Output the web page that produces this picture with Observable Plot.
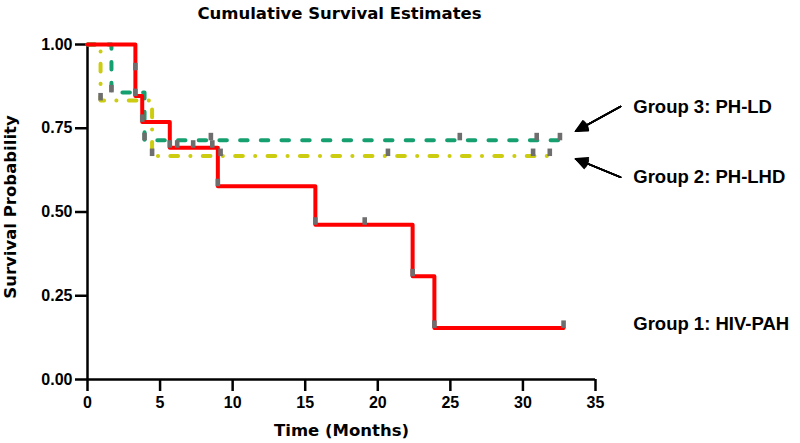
<!DOCTYPE html>
<html>
<head>
<meta charset="utf-8">
<script src="https://cdn.jsdelivr.net/npm/d3@7"></script>
<script src="https://cdn.jsdelivr.net/npm/@observablehq/plot@0.6"></script>
<style>
  html, body { margin: 0; padding: 0; background: #fff; }
  #chart svg { display: block; }
</style>
</head>
<body>
<div id="chart"></div>
<script>
// Group 1: HIV-PAH (red, solid)
const g1Time = [0, 3.3, 3.3, 3.77, 5.67, 6.18, 7.28, 8.6, 8.98, 15.7, 19.1, 22.4, 23.9, 32.8];
const g1Surv = [1, 0.923, 0.846, 0.769, 0.692, 0.692, 0.692, 0.692, 0.577, 0.462, 0.462, 0.308, 0.154, 0.154];
// Group 2: PH-LHD (yellow, dash-dot)
const g2Time = [0, 0.9, 4.45, 9.17, 20.7, 30.7, 31.85];
const g2Surv = [1, 0.833, 0.667, 0.667, 0.667, 0.667, 0.667];
// Group 3: PH-LD (green, dashed)
const g3Time = [0, 1.65, 3.93, 8.5, 25.65, 30.95, 32.55];
const g3Surv = [1, 0.857, 0.714, 0.714, 0.714, 0.714, 0.714];

const xTicks = [0, 5, 10, 15, 20, 25, 30, 35];
const yTicks = [0, 0.25, 0.5, 0.75, 1];

const labelText = ["Group 3: PH-LD", "Group 2: PH-LHD", "Group 1: HIV-PAH"];
const labelTime = [37.6, 37.6, 37.6];
const labelSurv = [0.813, 0.604, 0.164];

const arrowFromTime = [36.73, 36.73];
const arrowFromSurv = [0.815, 0.604];
const arrowToTime = [33.63, 33.63];
const arrowToSurv = [0.741, 0.659];
const headAngles = [52, 42, 32, 22, 12];

const toRows = (t, s) => t.map((d, i) => ({t: d, s: s[i]}));
const g1 = toRows(g1Time, g1Surv);
const g2 = toRows(g2Time, g2Surv);
const g3 = toRows(g3Time, g3Surv);
const censor = [...g1.slice(1), ...g2.slice(1), ...g3.slice(1)];
const labels = labelText.map((d, i) => ({text: d, t: labelTime[i], s: labelSurv[i]}));
const arrows = arrowFromTime.map((d, i) => ({t1: d, s1: arrowFromSurv[i], t2: arrowToTime[i], s2: arrowToSurv[i]}));

const tickSymbol = { draw(context) { context.rect(-2.3, -7.5, 4.6, 7.5); } };

const FONT = "'Liberation Sans', Arial, sans-serif";
const WIDE = "'DejaVu Sans', sans-serif";

const chart = Plot.plot({
  width: 800,
  height: 443,
  marginLeft: 87,
  marginRight: 205,
  marginTop: 44,
  marginBottom: 64,
  style: { fontFamily: FONT, fontWeight: "bold", color: "#000", background: "#fff", overflow: "visible" },
  x: { domain: [0, 35] },
  y: { domain: [0, 1] },
  marks: [
    Plot.axisX({ ticks: xTicks, tickSize: 12, tickPadding: 5, strokeWidth: 2.5, fontSize: 16, fontWeight: "bold", fontFamily: FONT, label: null }),
    Plot.axisY({ ticks: yTicks, tickSize: 12, tickPadding: 3, strokeWidth: 2.5, fontSize: 16, fontWeight: "bold", fontFamily: FONT, tickFormat: d3.format(".2f"), label: null }),
    Plot.ruleY([0], { stroke: "#000", strokeWidth: 2.5 }),
    Plot.ruleX([0], { stroke: "#000", strokeWidth: 2.5 }),
    Plot.line(g2, { x: "t", y: "s", curve: "step-after", stroke: "#cccc10", strokeWidth: 4, strokeLinecap: "round", strokeDasharray: "7.7,12.3,0.1,12.3" }),
    Plot.line(g3, { x: "t", y: "s", curve: "step-after", stroke: "#16a070", strokeWidth: 4, strokeLinecap: "round", strokeDasharray: "7.5,13.2" }),
    Plot.line(g1, { x: "t", y: "s", curve: "step-after", stroke: "#ff0000", strokeWidth: 4 }),
    Plot.dot(censor, { x: "t", y: "s", symbol: tickSymbol, fill: "#6e6e6e", stroke: null, r: 3 }),
    ...headAngles.map(a => Plot.arrow(arrows, { x1: "t1", y1: "s1", x2: "t2", y2: "s2", stroke: "#000", strokeWidth: 1.6, headLength: 12, headAngle: a })),
    Plot.text(labels, { x: "t", y: "s", text: "text", textAnchor: "start", fontSize: 18.5, fontWeight: "bold", fontFamily: FONT, fill: "#000" }),
    Plot.text(["Cumulative Survival Estimates"], { frameAnchor: "top", lineAnchor: "middle", dx: -2, dy: -31, fontSize: 16.5, fontWeight: "bold", fontFamily: WIDE, fill: "#000" }),
    Plot.text(["Time (Months)"], { frameAnchor: "bottom", lineAnchor: "middle", dy: 51, fontSize: 16.5, fontWeight: "bold", fontFamily: WIDE, fill: "#000" }),
    Plot.text(["Survival Probability"], { frameAnchor: "left", textAnchor: "middle", lineAnchor: "middle", dx: -77, dy: -5, rotate: -90, fontSize: 16.5, fontWeight: "bold", fontFamily: WIDE, fill: "#000" })
  ]
});
document.getElementById("chart").appendChild(chart);
</script>
</body>
</html>
